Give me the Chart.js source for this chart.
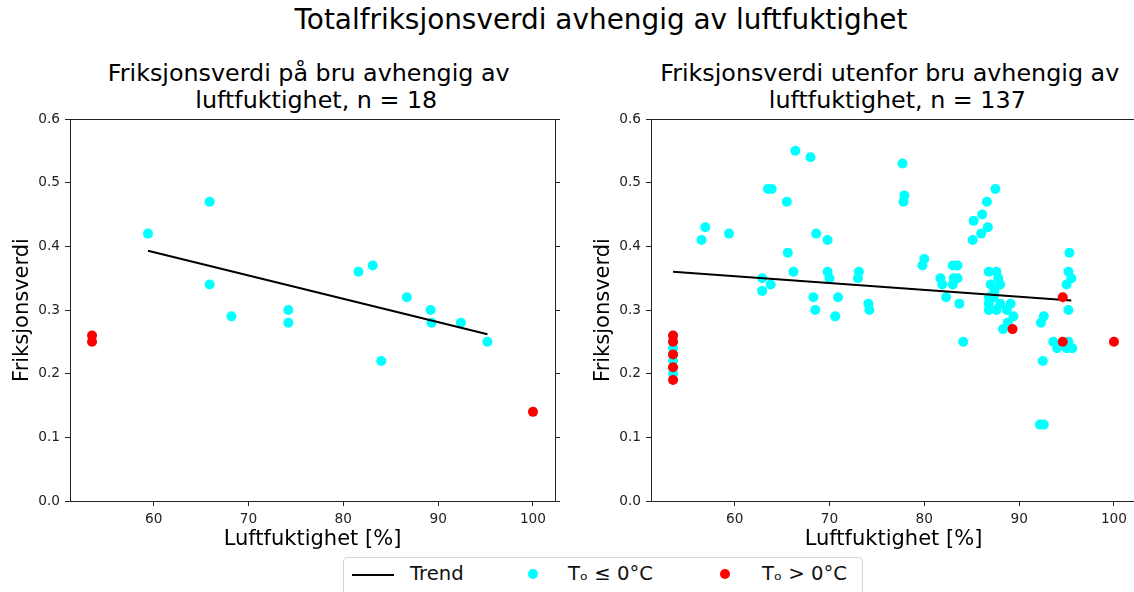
<!DOCTYPE html>
<html>
<head>
<meta charset="utf-8">
<script src="https://cdn.jsdelivr.net/npm/chart.js@4.4.1/dist/chart.umd.min.js"></script>
<style>
  html, body { margin: 0; padding: 0; background: #fff; overflow: hidden; width: 1134px; height: 592px; }
  body { position: relative; font-family: "DejaVu Sans", sans-serif; color: #000; }
  canvas { position: absolute; top: 100px; }
  .title { position: absolute; text-align: center; white-space: pre; }
  #legend { position: absolute; left: 343px; top: 557px; width: 520px; height: 42px; box-sizing: border-box;
            border: 1px solid #d6d6d6; border-radius: 4px; background: #fff; }
  #legend span { position: absolute; }
  #legend .txt { font-size: 19.6px; line-height: 20px; top: 6px; white-space: nowrap; color: #111; }
  #legend .dot { width: 10px; height: 10px; border-radius: 50%; top: 11px; }
</style>
</head>
<body>
<div class="title" style="left:0;width:1202px;top:4px;font-size:27.9px;line-height:32px;">Totalfriksjonsverdi avhengig av luftfuktighet</div>
<div class="title" style="left:12.5px;width:600px;top:60px;font-size:23.8px;line-height:27px;">Friksjonsverdi på bru avhengig av 
 luftfuktighet, n = 18</div>
<div class="title" style="left:593.5px;width:600px;top:60px;font-size:23.8px;line-height:27px;">Friksjonsverdi utenfor bru avhengig av 
 luftfuktighet, n = 137</div>

<canvas id="bru" width="590" height="456" style="left:0px"></canvas>
<canvas id="utenfor" width="590" height="456" style="left:581px"></canvas>

<div id="legend">
  <span style="left:8px;top:16px;width:42px;height:2px;background:#000;"></span>
  <span class="txt" style="left:66px;">Trend</span>
  <span class="dot" style="left:184px;background:#00ffff;"></span>
  <span class="txt" style="left:224px;">Tₒ ≤ 0°C</span>
  <span class="dot" style="left:376px;background:#ff0000;"></span>
  <span class="txt" style="left:418px;">Tₒ &gt; 0°C</span>
</div>

<script>
// Axis ticks
const xTicks = [60, 70, 80, 90, 100];
const yTicks = [0.0, 0.1, 0.2, 0.3, 0.4, 0.5, 0.6];
const xMin = 51.175, xMax = 102.325;

// På bru: luftfuktighet [%] og friksjonsverdi
const bruKaldX = [59.4, 65.9, 65.9, 68.2, 74.2, 74.2, 81.6, 83.1, 84.0, 86.7, 89.2, 89.3, 92.4, 95.2];
const bruKaldY = [0.42, 0.47, 0.34, 0.29, 0.30, 0.28, 0.36, 0.37, 0.22, 0.32, 0.30, 0.28, 0.28, 0.25];
const bruVarmX = [53.5, 53.5, 100];
const bruVarmY = [0.26, 0.25, 0.14];
const bruTrendX = [59.4, 95.2];
const bruTrendY = [0.393, 0.262];

// Utenfor bru
const utKaldX = [53.5, 53.5, 53.5, 53.5, 53.5, 53.5, 53.5,
  56.5, 56.9, 59.4,
  62.9, 62.9, 63.8, 63.5, 63.9,
  65.5, 65.6, 66.2, 66.4,
  68.0, 68.3, 68.5, 68.6,
  69.8, 69.8, 70.0, 70.6, 70.9,
  73.1, 73.0, 74.1, 74.2,
  77.7, 77.9, 77.8,
  80.0, 79.8,
  81.7, 81.9, 82.3,
  83.0, 83.5, 83.1, 83.5, 83.0, 83.7,
  84.1,
  85.1, 85.2, 86.0, 86.1, 86.6, 86.7, 87.5,
  86.8, 87.6, 87.8, 87.0, 88.0, 87.4, 86.8, 87.3, 86.8, 88.0, 89.1, 86.8, 87.6, 88.7,
  88.3, 88.8, 89.4,
  92.6, 92.3, 92.5, 92.2, 92.6,
  93.6, 94.0, 95.0, 95.6, 95.2,
  95.3, 95.2, 95.5, 95.0, 95.2];
const utKaldY = [0.26, 0.25, 0.24, 0.23, 0.22, 0.21, 0.20,
  0.41, 0.43, 0.42,
  0.35, 0.33, 0.34, 0.49, 0.49,
  0.47, 0.39, 0.36, 0.55,
  0.54, 0.32, 0.30, 0.42,
  0.41, 0.36, 0.35, 0.29, 0.32,
  0.36, 0.35, 0.31, 0.30,
  0.53, 0.48, 0.47,
  0.38, 0.37,
  0.35, 0.34, 0.32,
  0.37, 0.37, 0.35, 0.35, 0.34, 0.31,
  0.25,
  0.41, 0.44, 0.42, 0.45, 0.47, 0.43, 0.49,
  0.36, 0.36, 0.35, 0.34, 0.34, 0.33, 0.32, 0.32, 0.31, 0.31, 0.31, 0.30, 0.30, 0.30,
  0.27, 0.28, 0.29,
  0.29, 0.28, 0.22, 0.12, 0.12,
  0.25, 0.24, 0.24, 0.24, 0.25,
  0.39, 0.36, 0.35, 0.34, 0.30];
const utVarmX = [53.5, 53.5, 53.5, 53.5, 53.5, 89.3, 94.6, 94.6, 100];
const utVarmY = [0.26, 0.25, 0.23, 0.21, 0.19, 0.27, 0.32, 0.25, 0.25];
const utTrendX = [53.5, 95.5];
const utTrendY = [0.360, 0.315];

const FONT = '"DejaVu Sans", sans-serif';
const AXIS = '#222';
Chart.defaults.font.family = FONT;

const pts = (xs, ys) => xs.map((x, i) => ({ x: x, y: ys[i] }));
const setTicks = vals => scale => { scale.ticks = vals.map(v => ({ value: v })); };

function lagFigur(id, kaldX, kaldY, varmX, varmY, trendX, trendY) {
  return new Chart(document.getElementById(id), {
    type: 'scatter',
    data: {
      datasets: [
        { label: 'Tₒ > 0°C', data: pts(varmX, varmY), order: 0,
          backgroundColor: '#ff0000', borderWidth: 0, pointRadius: 5, pointHoverRadius: 5 },
        { label: 'Trend', data: pts(trendX, trendY), order: 1, showLine: true,
          borderColor: '#000', borderWidth: 2, pointRadius: 0, fill: false },
        { label: 'Tₒ ≤ 0°C', data: pts(kaldX, kaldY), order: 2,
          backgroundColor: '#00ffff', borderWidth: 0, pointRadius: 5, pointHoverRadius: 5 }
      ]
    },
    options: {
      responsive: false,
      animation: false,
      devicePixelRatio: 1,
      layout: { padding: { top: 19, right: 30, left: 0, bottom: 0 } },
      plugins: { legend: { display: false }, tooltip: { enabled: false } },
      scales: {
        x: {
          type: 'linear', position: 'bottom', min: xMin, max: xMax,
          afterBuildTicks: setTicks(xTicks),
          afterFit: s => { s.height = 55; },
          ticks: { color: AXIS, font: { size: 13.7 }, padding: 5, maxRotation: 0, callback: v => String(v) },
          grid: { display: true, drawOnChartArea: false, drawTicks: true, tickLength: 5, color: AXIS, lineWidth: 1 },
          border: { display: true, color: AXIS, width: 1 },
          title: { display: true, text: 'Luftfuktighet [%]', color: '#000', font: { size: 21 }, padding: { top: 0, bottom: 4 } }
        },
        xTop: {
          type: 'linear', position: 'top', min: xMin, max: xMax,
          afterBuildTicks: setTicks(xTicks),
          afterFit: s => { s.height = 0; },
          ticks: { display: false },
          grid: { display: true, drawOnChartArea: false, drawTicks: false },
          border: { display: true, color: AXIS, width: 1 }
        },
        y: {
          type: 'linear', position: 'left', min: 0, max: 0.6,
          afterBuildTicks: setTicks(yTicks),
          afterFit: s => { s.width = 70; },
          ticks: { color: AXIS, font: { size: 13.7 }, padding: 5, callback: v => v.toFixed(1) },
          grid: { display: true, drawOnChartArea: false, drawTicks: true, tickLength: 5, color: AXIS, lineWidth: 1 },
          border: { display: true, color: AXIS, width: 1 },
          title: { display: true, text: 'Friksjonsverdi', color: '#000', font: { size: 21 }, padding: { top: 10, bottom: 0 } }
        },
        yRight: {
          type: 'linear', position: 'right', min: 0, max: 0.6,
          afterBuildTicks: setTicks(yTicks),
          afterFit: s => { s.width = 5; },
          ticks: { display: false },
          grid: { display: true, drawOnChartArea: false, drawTicks: true, tickLength: 5, color: AXIS, lineWidth: 1 },
          border: { display: true, color: AXIS, width: 1 }
        }
      }
    }
  });
}

lagFigur('bru', bruKaldX, bruKaldY, bruVarmX, bruVarmY, bruTrendX, bruTrendY);
lagFigur('utenfor', utKaldX, utKaldY, utVarmX, utVarmY, utTrendX, utTrendY);
</script>
</body>
</html>
